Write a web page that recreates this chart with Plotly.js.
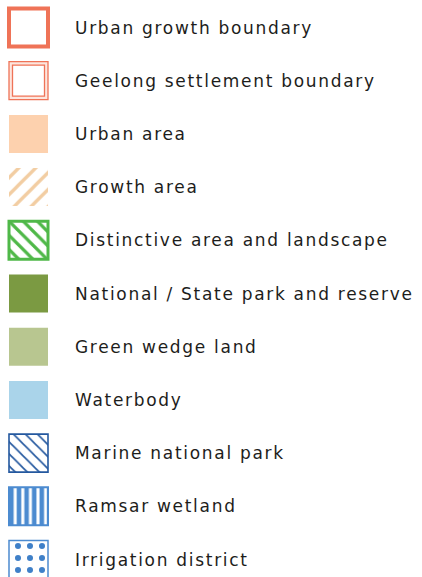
<!DOCTYPE html>
<html>
<head>
<meta charset="utf-8">
<script src="https://cdn.plot.ly/plotly-3.0.1.min.js"></script>
<style>
html,body{margin:0;padding:0;background:#fff;}
#chart{width:422px;height:577px;}
</style>
</head>
<body>
<div id="chart"></div>
<script>
// ---- data ----
const labels = [
  "Urban growth boundary",
  "Geelong settlement boundary",
  "Urban area",
  "Growth area",
  "Distinctive area and landscape",
  "National / State park and reserve",
  "Green wedge land",
  "Waterbody",
  "Marine national park",
  "Ramsar wetland",
  "Irrigation district"
];
const rows = [0, 1, 2, 3, 4, 5, 6, 7, 8, 9, 10];

// ---- styles (one per legend row) ----
// for patterned rows the marker colour is the pattern (foreground) colour on a transparent ground
const fillColors   = ["#ffffff", "#fde6de", "#fdd1ae", "#f2cda2", "#4fb848", "#7b9a42", "#b8c690", "#aad4ea", "#24589f", "#4c8bd0", "#3f80c8"];
const lineColors   = ["#ef7357", "#ef7357", "#fdd1ae", "rgba(0,0,0,0)", "#4fb848", "#7b9a42", "#b8c690", "#aad4ea", "#24589f", "#4c8bd0", "#4c8bd0"];
const lineWidths   = [4, 1.3, 0, 0, 3, 0, 0, 0, 1.6, 2, 1.5];
const patShapes    = ["", "", "", "/", "\\", "", "", "", "\\", "|", "."];
const patSize      = [8, 8, 8, 12, 10, 8, 8, 8, 8.5, 7.6, 12];
const patSolidity  = [0.3, 0.3, 0.3, 0.28, 0.32, 0.3, 0.3, 0.3, 0.2, 0.6, 0.2];

const iconStart = 9, iconLen = 39;
const rowPx = 53.2, firstRowPx = 27.5, figH = 577, figW = 422;
const iconThick = 38 / rowPx;

const iconTrace = {
  type: "bar",
  orientation: "h",
  y: rows,
  x: rows.map(() => iconLen),
  base: rows.map(() => iconStart),
  width: rows.map(() => iconThick),
  marker: {
    color: fillColors,
    line: { color: lineColors, width: lineWidths },
    pattern: {
      shape: patShapes,
      size: patSize,
      solidity: patSolidity,
      fillmode: "replace"
    }
  },
  hoverinfo: "skip"
};

// inner box of the double (Geelong) boundary
const gRow = labels.indexOf("Geelong settlement boundary");
const innerTrace = {
  type: "bar",
  orientation: "h",
  y: [rows[gRow]],
  x: [iconLen - 7],
  base: [iconStart + 3.5],
  width: [(38 - 7) / rowPx],
  marker: { color: "#ffffff", line: { color: "#ef7357", width: 1.3 } },
  hoverinfo: "skip"
};

const annotations = labels.map((t, i) => ({
  xref: "x", yref: "y",
  x: 73, y: rows[i],
  xanchor: "left", yanchor: "middle",
  text: '<span style="letter-spacing:1.7px">' + t + '</span>',
  showarrow: false,
  font: { family: "DejaVu Sans", size: 17, color: "#1d1d1b" }
}));

const layout = {
  width: figW, height: figH,
  margin: { l: 0, r: 0, t: 0, b: 0 },
  paper_bgcolor: "#ffffff", plot_bgcolor: "#ffffff",
  showlegend: false,
  barmode: "overlay",
  xaxis: { range: [0, figW], visible: false, fixedrange: true },
  yaxis: {
    range: [(figH - firstRowPx) / rowPx, -firstRowPx / rowPx],
    visible: false, fixedrange: true
  },
  annotations: annotations
};

Plotly.newPlot("chart", [iconTrace, innerTrace], layout, { staticPlot: true, displayModeBar: false });
</script>
</body>
</html>
